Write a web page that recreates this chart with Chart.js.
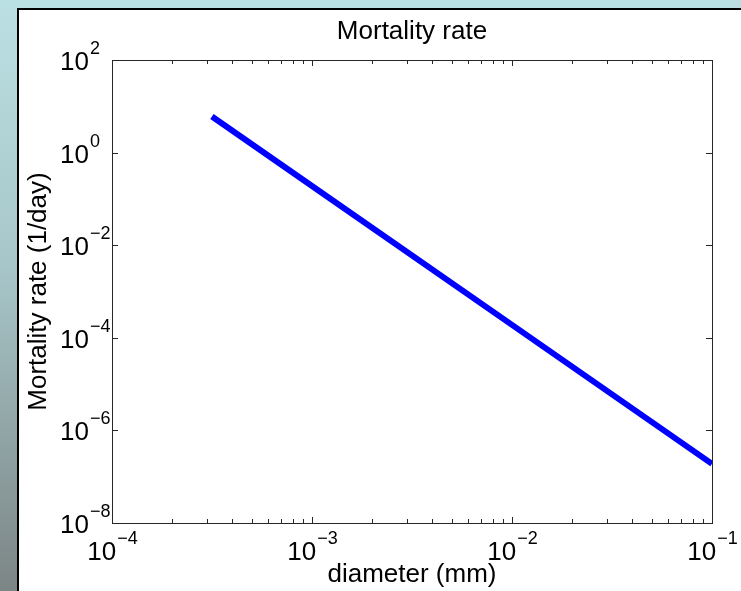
<!DOCTYPE html>
<html>
<head>
<meta charset="utf-8">
<script src="https://cdn.jsdelivr.net/npm/chart.js@4/dist/chart.umd.min.js"></script>
<style>
	html, body { margin: 0; padding: 0; }
	body {
		width: 741px; height: 591px; overflow: hidden; position: relative;
		background: linear-gradient(to bottom, #bbe0e3 0%, #a7c6c9 45%, #7c8585 100%);
	}
	#panel {
		position: absolute; left: 17px; top: 8px; right: 0; bottom: 0;
		background: #fff; border-left: 2px solid #000; border-top: 2px solid #000;
	}
	#chart { position: absolute; left: 0; top: 0; }
</style>
</head>
<body>
<div id="panel"></div>
<canvas id="chart" width="741" height="591"></canvas>

<script>
	// values
	var diameters = [3.16e-4, 1e-3, 1e-2, 1e-1];     // mm
	var mortality = [6.0, 0.19, 1.9e-4, 1.9e-7];     // 1/day

	// tick labels (exponents of 10)
	var xTickExp = [-4, -3, -2, -1];
	var yTickExp = [-8, -6, -4, -2, 0, 2];

	var titleText = "Mortality rate";
	var xLabelText = "diameter (mm)";
	var yLabelText = "Mortality rate (1/day)";

	var FONT = "'Liberation Sans', Arial, Helvetica, sans-serif";

	// MATLAB style box, inward ticks and 10^n labels
	var matlabAxes = {
		id: 'matlabAxes',
		afterDraw: function (chart) {
			var ctx = chart.ctx;
			var xs = chart.scales.x, ys = chart.scales.y;
			var a = chart.chartArea;
			ctx.save();

			// ticks
			ctx.strokeStyle = '#262626';
			ctx.lineWidth = 1;
			ctx.beginPath();
			xTickExp.forEach(function (e, i) {
				var px = Math.round(xs.getPixelForValue(Math.pow(10, e))) + 0.5;
				ctx.moveTo(px, a.bottom); ctx.lineTo(px, a.bottom - 6);
				ctx.moveTo(px, a.top); ctx.lineTo(px, a.top + 6);
				if (i < xTickExp.length - 1) {
					for (var m = 2; m <= 9; m++) {
						var mx = Math.round(xs.getPixelForValue(m * Math.pow(10, e))) + 0.5;
						ctx.moveTo(mx, a.bottom); ctx.lineTo(mx, a.bottom - 4);
						ctx.moveTo(mx, a.top); ctx.lineTo(mx, a.top + 4);
					}
				}
			});
			yTickExp.forEach(function (e) {
				var py = Math.round(ys.getPixelForValue(Math.pow(10, e))) + 0.5;
				ctx.moveTo(a.left, py); ctx.lineTo(a.left + 6, py);
				ctx.moveTo(a.right, py); ctx.lineTo(a.right - 6, py);
			});
			ctx.stroke();

			// box
			ctx.strokeStyle = '#262626';
			ctx.strokeRect(Math.round(a.left) + 0.5, Math.round(a.top) + 0.5,
				Math.round(a.right - a.left), Math.round(a.bottom - a.top));

			ctx.fillStyle = '#000';
			ctx.textBaseline = 'alphabetic';

			// x tick labels
			xTickExp.forEach(function (e) {
				var px = xs.getPixelForValue(Math.pow(10, e));
				var exp = e < 0 ? '\u2212' + Math.abs(e) : String(e);
				ctx.font = '26px ' + FONT;
				var w1 = ctx.measureText('10').width;
				ctx.font = '18px ' + FONT;
				var w2 = ctx.measureText(exp).width;
				var x0 = px - (w1 + w2) / 2;
				ctx.textAlign = 'left';
				ctx.font = '26px ' + FONT;
				ctx.fillText('10', x0, 560);
				ctx.font = '18px ' + FONT;
				ctx.fillText(exp, x0 + w1 + 1, 544);
			});

			// y tick labels
			yTickExp.forEach(function (e) {
				var py = ys.getPixelForValue(Math.pow(10, e));
				var exp = e < 0 ? '\u2212' + Math.abs(e) : String(e);
				ctx.textAlign = 'left';
				ctx.font = '26px ' + FONT;
				var w1 = ctx.measureText('10').width;
				ctx.fillText('10', 60, py + 10);
				ctx.font = '18px ' + FONT;
				ctx.fillText(exp, 60 + w1 + 1, py - 6);
			});

			// title and axis labels
			var cx = (a.left + a.right) / 2;
			ctx.textAlign = 'center';
			ctx.font = '26px ' + FONT;
			ctx.fillText(titleText, cx, 39);
			ctx.fillText(xLabelText, cx, 582);

			ctx.translate(46, (a.top + a.bottom) / 2);
			ctx.rotate(-Math.PI / 2);
			ctx.fillText(yLabelText, 0, 0);

			ctx.restore();
		}
	};

	var points = diameters.map(function (d, i) {
		return { x: d, y: mortality[i] };
	});

	var ctx = document.getElementById("chart").getContext("2d");
	var chart = new Chart(ctx, {
		type: 'scatter',
		data: {
			datasets: [{
				data: points,
				showLine: true,
				borderColor: '#0000ff',
				backgroundColor: '#0000ff',
				borderWidth: 6,
				pointRadius: 0,
				tension: 0
			}]
		},
		options: {
			responsive: false,
			animation: false,
			layout: { padding: { left: 112, right: 29, top: 60, bottom: 68 } },
			plugins: {
				legend: { display: false },
				tooltip: { enabled: false }
			},
			scales: {
				x: { type: 'logarithmic', min: 1e-4, max: 1e-1, display: false },
				y: { type: 'logarithmic', min: 1e-8, max: 1e2, display: false }
			}
		},
		plugins: [matlabAxes]
	});
</script>
</body>
</html>
